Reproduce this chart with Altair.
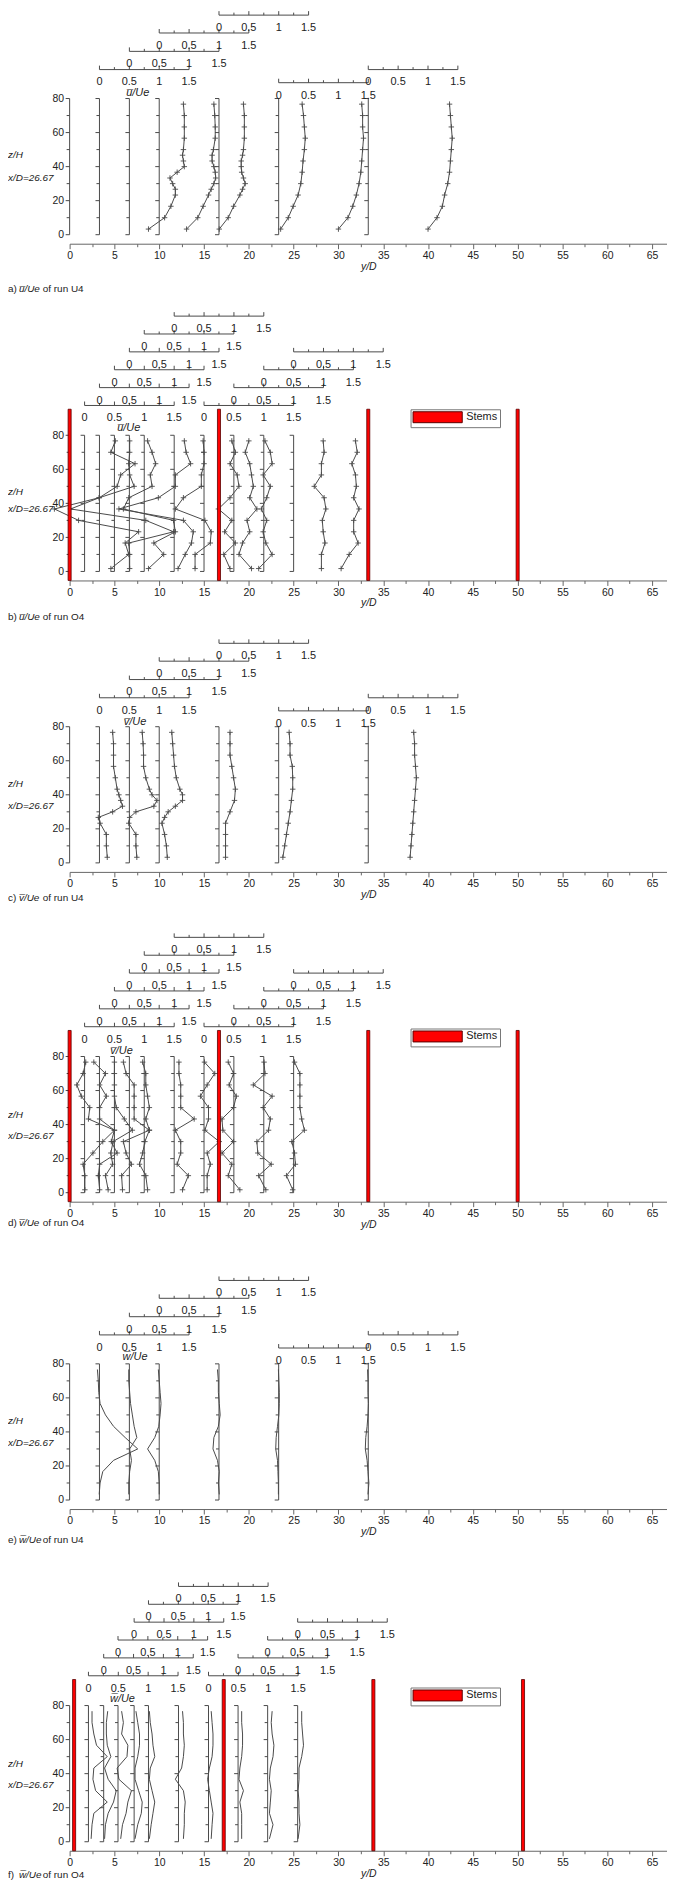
import altair as alt
import pandas as pd

FONT = "Liberation Sans"
INK = "#4a4a4a"
TXT = "#222222"
K = 1.7125            # px per z/H unit
XMAX = 66.67
W = 601

# ---------------- z/H levels ----------------
Z_U4 = [3.3, 10, 16.7, 23.3, 30, 36.7, 43.3, 50, 56.7, 63.3, 70, 76.7]
Z_U4_DENSE = [3.3, 10, 16.7, 23.3, 26.7, 30, 33.3, 36.7, 40, 43.3, 46.7, 50, 56.7, 63.3, 70, 76.7]
Z_V4_DENSE = [3.3, 10, 16.7, 23.3, 26.7, 30, 33.3, 36.7, 40, 43.3, 50, 56.7, 63.3, 70, 76.7]
Z_O4 = [1.7, 10, 16.7, 23.3, 30, 36.7, 43.3, 50, 56.7, 63.3, 70, 76.7]

# ---------------- a) u/Ue run U4 (profile positions in y/D) ----------------
A1 = [8.8, 10.6, 11.3, 11.8, 11.8, 11.5, 11.2, 12.0, 12.8, 12.7, 12.6, 12.7, 12.8, 12.8, 12.8, 12.7]
A2 = [13.05, 14.3, 14.9, 15.5, 15.8, 16.1, 16.3, 16.25, 16.1, 15.9, 15.9, 16.05, 16.25, 16.25, 16.2, 16.1]
A3 = [16.7, 17.7, 18.3, 19.0, 19.3, 19.6, 19.4, 19.2, 19.15, 19.15, 19.3, 19.4, 19.5, 19.5, 19.5, 19.4]
A4 = [23.55, 24.4, 24.95, 25.5, 25.8, 25.95, 26.05, 26.2, 26.3, 26.2, 26.1, 25.95]
A5 = [30.0, 31.06, 31.6, 32.0, 32.3, 32.5, 32.6, 32.7, 32.8, 32.7, 32.7, 32.6]
A6 = [40.0, 41.0, 41.6, 41.85, 42.2, 42.4, 42.5, 42.6, 42.7, 42.6, 42.5, 42.4]

# ---------------- b) u/Ue run O4 ----------------
B1 = [4.6, 6.6, 6.2, 7.7, 1.0, -1.7, 3.3, 5.3, 5.7, 7.3, 4.6, 5.1]
B2 = [6.7, 6.7, 6.6, 11.6, 8.5, 0.1, 3.3, 7.2, 6.7, 6.6, 6.7, 6.7]
B3 = [8.8, 10.5, 9.4, 11.8, 11.6, 6.0, 6.6, 9.2, 9.0, 9.6, 9.2, 8.7]
B4 = [12.1, 12.9, 13.6, 13.8, 12.7, 5.5, 9.9, 11.8, 11.8, 13.5, 13.0, 12.8]
B5 = [14.0, 14.0, 15.7, 15.8, 15.1, 11.8, 12.7, 14.7, 14.7, 15.0, 15.0, 14.9]
B6 = [17.9, 17.2, 18.5, 17.3, 18.1, 16.6, 17.9, 18.9, 18.7, 17.9, 18.5, 18.1]
B7 = [20.3, 18.9, 19.3, 20.1, 19.8, 20.9, 20.1, 20.5, 20.3, 20.1, 19.6, 20.0]
B8 = [21.1, 22.6, 21.9, 21.6, 22.0, 21.4, 22.0, 22.4, 21.6, 22.6, 22.4, 21.8]
B9 = [28.1, 28.1, 28.5, 28.3, 28.2, 28.6, 28.4, 27.3, 28.1, 28.1, 28.4, 28.3]
B10 = [30.3, 31.2, 32.2, 31.7, 31.7, 32.3, 31.7, 32.0, 31.9, 31.5, 32.1, 31.9]

# ---------------- c) v/Ue run U4 ----------------
C1 = [4.2, 4.1, 4.1, 3.4, 3.2, 4.8, 5.9, 5.7, 5.5, 5.3, 5.1, 4.9, 4.9, 4.9, 4.8]
C2 = [7.5, 7.4, 7.4, 6.6, 6.7, 7.4, 9.4, 9.75, 9.2, 8.9, 8.5, 8.25, 8.25, 8.2, 8.1]
C3 = [10.9, 10.8, 10.6, 10.3, 10.6, 11.0, 11.8, 12.6, 12.6, 12.3, 11.9, 11.7, 11.6, 11.5, 11.4]
C4 = [17.4, 17.4, 17.4, 17.4, 17.9, 18.4, 18.5, 18.3, 18.1, 17.9, 17.9, 17.9]
C5 = [23.8, 24.0, 24.2, 24.4, 24.6, 24.75, 24.9, 24.9, 24.85, 24.6, 24.6, 24.5]
C6 = [38.0, 38.1, 38.2, 38.3, 38.4, 38.5, 38.6, 38.7, 38.6, 38.5, 38.5, 38.4]

# ---------------- d) v/Ue run O4 ----------------
D1 = [1.7, 1.7, 1.5, 2.6, 3.7, 5.0, 2.1, 2.25, 1.3, 0.8, 1.5, 1.8]
D2 = [3.35, 3.2, 3.35, 5.3, 4.65, 5.0, 3.35, 3.35, 4.1, 3.35, 4.0, 2.7]
D3 = [4.3, 4.0, 4.8, 4.6, 4.85, 7.0, 6.1, 5.2, 5.0, 5.0, 5.0, 5.0]
D4 = [5.9, 5.8, 6.9, 6.3, 6.0, 8.9, 7.2, 7.2, 7.2, 7.2, 6.3, 6.0]
D5 = [8.7, 8.5, 7.8, 8.15, 8.4, 8.9, 8.5, 8.9, 8.7, 8.5, 8.5, 8.15]
D6 = [12.6, 13.25, 12.0, 12.4, 12.4, 11.8, 13.9, 12.4, 12.4, 12.4, 12.2, 12.2]
D7 = [15.35, 15.35, 15.7, 15.35, 16.7, 15.1, 15.5, 15.5, 14.6, 15.35, 16.2, 15.05]
D8 = [19.0, 17.7, 18.1, 17.0, 18.3, 17.1, 17.0, 18.3, 18.6, 17.8, 18.3, 17.7]
D9 = [21.9, 21.1, 22.5, 21.0, 20.9, 22.2, 22.4, 21.6, 22.6, 20.5, 21.8, 21.7]
D10 = [24.9, 24.2, 25.2, 25.1, 24.8, 26.2, 25.9, 25.7, 25.7, 25.7, 25.7, 25.1]

# ---------------- e) w/Ue run U4 ----------------
E1 = [3.3, 3.4, 3.7, 4.9, 7.6, 6.2, 4.9, 4.0, 3.4, 3.25, 3.2, 3.1]
E2 = [6.6, 6.6, 6.7, 6.9, 6.7, 7.5, 7.2, 7.0, 6.8, 6.7, 6.6, 6.6]
E3 = [10.0, 10.0, 9.9, 9.5, 8.7, 9.5, 9.95, 10.1, 10.2, 10.1, 10.0, 9.9]
E4 = [16.7, 16.6, 16.7, 16.5, 16.0, 16.1, 16.6, 16.8, 16.7, 16.6, 16.6, 16.5]
E5 = [23.3, 23.3, 23.25, 23.2, 23.0, 23.05, 23.2, 23.35, 23.4, 23.4, 23.35, 23.3]
E6 = [33.3, 33.4, 33.3, 33.2, 33.0, 33.05, 33.2, 33.3, 33.35, 33.3, 33.3, 33.25]

# ---------------- f) w/Ue run O4 ----------------
F1 = [2.4, 2.5, 2.7, 4.2, 2.9, 2.6, 2.7, 4.2, 3.0, 2.7, 2.5, 2.5]
F2 = [3.9, 4.0, 4.3, 4.9, 5.2, 4.3, 3.9, 4.6, 4.2, 4.1, 4.1, 4.25]
F3 = [5.7, 5.9, 6.3, 6.5, 6.9, 5.5, 5.3, 6.4, 6.5, 5.8, 6.0, 5.8]
F4 = [7.3, 7.6, 8.0, 8.1, 7.7, 7.3, 7.3, 7.6, 7.8, 7.8, 7.6, 7.4]
F5 = [8.9, 9.1, 9.3, 9.5, 9.2, 8.9, 9.0, 9.5, 9.3, 9.2, 9.0, 8.9]
F6 = [12.7, 12.8, 12.8, 12.9, 12.7, 11.8, 12.5, 12.7, 12.8, 12.7, 12.7, 12.6]
F7 = [15.8, 15.9, 16.0, 15.8, 15.6, 15.4, 15.6, 15.9, 16.0, 16.0, 15.9, 15.8]
F8 = [19.2, 19.2, 19.2, 19.0, 19.4, 18.9, 19.0, 19.2, 19.3, 19.3, 19.2, 19.2]
F9 = [22.3, 22.7, 22.3, 22.4, 22.5, 22.3, 22.4, 22.7, 22.8, 22.6, 22.5, 22.6]
F10 = [25.5, 25.7, 25.6, 25.6, 25.5, 25.6, 25.6, 25.9, 26.1, 26.0, 25.9, 25.9]

# ---------------- profile baselines (brackets) and secondary scales ----------------
BR_U4 = [0, 3.33, 6.67, 10, 16.67, 23.33, 33.33]
BR_O4 = [0, 1.67, 3.33, 5, 6.67, 8.33, 11.67, 15, 18.33, 21.67, 25]
BR_O4F = [0, 2.1, 3.8, 5.4, 7.2, 8.8, 12.15, 15.5, 18.8, 22.1, 25.45]

MINI_U4_ZERO = [3.33, 6.67, 10, 16.67, 23.33, 33.33]
MINI_U4_LEVEL = [97.0, 107.7, 118.5, 129.0, 89.3, 97.0]
MINI_O4_ZERO = [1.67, 3.33, 5, 6.67, 8.33, 11.67, 15, 18.33, 21.67, 25]
MINI_O4F_ZERO = [2.1, 3.8, 5.4, 7.2, 8.8, 12.15, 15.5, 18.8, 22.1, 25.45]
MINI_O4_LEVEL = [97.5, 108, 118.5, 129, 139.5, 150, 97.5, 108, 118.5, 129]
MINI_TICKS = ["0", "0.5", "1", "1.5"]
MINI_SPAN = 10.0      # y/D length of 1.5 Ue

STEMS_O4 = [0, 16.67, 33.33, 50]
STEMS_O4F = [0.5, 17.2, 33.9, 50.6]
STEM_TOP = 95.3

X_TICKS = [i * 2.5 for i in range(27)]
Y_TICKS = [0, 20, 40, 60, 80]


def panel(curves, brackets, mini_zero, mini_level, z_top, markers, stems,
          legend_y, var_label, var_pos, caption, cap_y, zh_z, xd_z, spacer):
    h = (z_top + 5.3) * K
    xs = alt.Scale(domain=[0, XMAX], nice=False, zero=False)
    ys = alt.Scale(domain=[-5.3, z_top], nice=False, zero=False)
    xaxis = alt.Axis(values=X_TICKS, labelExpr="datum.value % 5 === 0 ? datum.label : ''",
                     tickSize={"condition": {"test": "datum.value % 5 === 0", "value": 5}, "value": 3},
                     labelOverlap=False, labelFlush=False, labelPadding=2, labelFontSize=10.5,
                     labelColor=TXT, domainColor="#666", tickColor="#666", grid=False,
                     title="y/D", titleFontStyle="italic", titleFontWeight="normal",
                     titleFontSize=10.5, titleColor=TXT, titlePadding=0)
    yaxis = alt.Axis(values=Y_TICKS, ticks=False, tickSize=0, domain=False, labelPadding=6,
                     labelFontSize=10.5, labelColor=TXT, title=None, grid=False)
    X = alt.X("x:Q", scale=xs, axis=xaxis)
    Y = alt.Y("z:Q", scale=ys, axis=yaxis)

    # brackets (profile baselines)
    br = pd.DataFrame({"x": brackets, "z": [0] * len(brackets), "z2": [80] * len(brackets)})
    bt = pd.DataFrame([{"x": b - (0.444 if t % 20 == 0 else 0.333), "x2": b, "z": t}
                       for b in brackets for t in range(0, 81, 10)])
    # secondary (per-profile) scales
    ml = pd.DataFrame({"x": mini_zero, "x2": [v + MINI_SPAN for v in mini_zero], "z": mini_level})
    mt = pd.DataFrame([{"x": z0 + i * MINI_SPAN / 6, "z": lv, "z2": lv + (4 if i % 2 == 0 else 2.5) / K}
                       for z0, lv in zip(mini_zero, mini_level) for i in range(7)])
    mlab = pd.DataFrame([{"x": z0 + j * MINI_SPAN / 3, "z": lv, "t": lab}
                         for z0, lv in zip(mini_zero, mini_level) for j, lab in enumerate(MINI_TICKS)])
    cv = pd.DataFrame([{"c": name, "i": i, "z": zz, "x": xx}
                       for name, (lev, vals) in curves.items() for i, (zz, xx) in enumerate(zip(lev, vals))])

    layers = [
        alt.Chart(br).mark_rule(color=INK, strokeWidth=1).encode(x=X, y=Y, y2="z2:Q"),
        alt.Chart(bt).mark_rule(color=INK, strokeWidth=1).encode(x=X, x2="x2:Q", y=Y),
        alt.Chart(ml).mark_rule(color=INK, strokeWidth=1).encode(x=X, x2="x2:Q", y=Y),
        alt.Chart(mt).mark_rule(color=INK, strokeWidth=1).encode(x=X, y=Y, y2="z2:Q"),
        alt.Chart(mlab).mark_text(baseline="top", dy=7, fontSize=11, color=TXT).encode(x=X, y=Y, text="t:N"),
        alt.Chart(cv).mark_line(color=INK, strokeWidth=1).encode(x=X, y=Y, detail="c:N", order="i:Q"),
    ]
    if markers:
        layers.append(alt.Chart(cv).mark_point(shape="M-1,0H1M0,-1V1", filled=False, size=30,
                                               strokeWidth=0.9, color=INK, opacity=1).encode(x=X, y=Y))
    lab = pd.DataFrame({"x": [var_pos[0]], "z": [var_pos[1]], "t": [var_label]})
    layers.append(alt.Chart(lab).mark_text(fontSize=11, fontStyle="italic", color=TXT)
                  .encode(x=X, y=Y, text="t:N"))
    side = pd.DataFrame({"z": [zh_z, xd_z], "t": ["z/H", "x/D=26.67"]})
    layers.append(alt.Chart(side).mark_text(fontSize=10, fontStyle="italic", align="left", color=TXT)
                  .encode(x=alt.value(-62), y=Y, text="t:N"))
    if stems:
        st = pd.DataFrame({"x": [s - 0.17 for s in stems], "x2": [s + 0.17 for s in stems],
                           "z": [-5.3] * len(stems), "z2": [STEM_TOP] * len(stems),
                           "lab": ["Stems"] * len(stems)})
        leg = alt.Legend(title=None, orient="none", legendX=343, legendY=legend_y,
                         symbolType="M-1,-1H8V1H-1Z", symbolSize=121,
                         symbolStrokeColor="#5a0000", symbolStrokeWidth=1,
                         labelFont=FONT, labelFontSize=11, labelColor=TXT, labelOffset=42,
                         padding=2, strokeColor="#777777", fillColor="white")
        layers.append(alt.Chart(st).mark_rect(stroke="#5a0000", strokeWidth=0.8).encode(
            x=X, x2="x2:Q", y=Y, y2="z2:Q",
            color=alt.Color("lab:N", scale=alt.Scale(domain=["Stems"], range=["#ff0000"]), legend=leg)))
    # caption: letter, italic quantity, run
    cap = pd.DataFrame({"t": caption, "px": [-62, -51, -27], "it": ["normal", "italic", "normal"]})
    for k in range(3):
        one = cap.iloc[[k]]
        layers.append(alt.Chart(one).mark_text(fontSize=10, align="left", baseline="middle",
                                               color=TXT, fontStyle=one["it"].iloc[0])
                      .encode(x=alt.value(float(one["px"].iloc[0])), y=alt.value(h + cap_y), text="t:N"))
    sp = pd.DataFrame({"a": [0]})
    layers.append(alt.Chart(sp).mark_rule(opacity=0, color="white").encode(
        x=alt.value(0), y=alt.value(h), y2=alt.value(h + spacer)))
    return alt.layer(*layers).properties(width=W, height=h)


pa = panel({"a1": (Z_U4_DENSE, A1), "a2": (Z_U4_DENSE, A2), "a3": (Z_U4_DENSE, A3),
            "a4": (Z_U4, A4), "a5": (Z_U4, A5), "a6": (Z_U4, A6)},
           BR_U4, MINI_U4_ZERO, MINI_U4_LEVEL, 131.6, True, None, 0,
           "u\u0305/Ue", (7.6, 83.0), ["a)", "u\u0305/Ue", "of run U4"], 46, 46.7, 33.3, 67.4)
pb = panel({"b%d" % (i + 1): (Z_O4, v) for i, v in enumerate([B1, B2, B3, B4, B5, B6, B7, B8, B9, B10])},
           BR_O4, MINI_O4_ZERO, MINI_O4_LEVEL, 152.5, True, STEMS_O4, 98,
           "u\u0305/Ue", (6.6, 84.0), ["b)", "u\u0305/Ue", "of run O4"], 37, 46.6, 36.9, 57.1)
pc = panel({"c1": (Z_V4_DENSE, C1), "c2": (Z_V4_DENSE, C2), "c3": (Z_V4_DENSE, C3),
            "c4": (Z_U4, C4), "c5": (Z_U4, C5), "c6": (Z_U4, C6)},
           BR_U4, MINI_U4_ZERO, MINI_U4_LEVEL, 131.6, True, None, 0,
           "v\u0305/Ue", (7.3, 83), ["c)", "v\u0305/Ue", "of run U4"], 26, 46.3, 33.7, 60.3)
pd_ = panel({"d%d" % (i + 1): (Z_O4, v) for i, v in enumerate([D1, D2, D3, D4, D5, D6, D7, D8, D9, D10])},
            BR_O4, MINI_O4_ZERO, MINI_O4_LEVEL, 152.5, True, STEMS_O4, 96,
            "v\u0305/Ue", (5.8, 83.3), ["d)", "v\u0305/Ue", "of run O4"], 21, 45.7, 33.0, 73.6)
pe = panel({"e%d" % (i + 1): (Z_U4, v) for i, v in enumerate([E1, E2, E3, E4, E5, E6])},
           BR_U4, MINI_U4_ZERO, MINI_U4_LEVEL, 131.6, False, None, 0,
           "w\u0305/Ue", (7.3, 83.9), ["e)", "w\u0305/Ue", "of run U4"], 31, 46.5, 33.6, 71.8)
pf = panel({"f%d" % (i + 1): (Z_O4, v) for i, v in enumerate([F1, F2, F3, F4, F5, F6, F7, F8, F9, F10])},
           BR_O4F, MINI_O4F_ZERO, MINI_O4_LEVEL, 152.5, False, STEMS_O4F, 106,
           "w\u0305/Ue", (5.9, 84.0), ["f)", "w\u0305/Ue", "of run O4"], 24, 45.7, 33.4, 32)

chart = (alt.vconcat(pa, pb, pc, pd_, pe, pf, spacing=0)
         .resolve_scale(x="independent", y="independent", color="independent")
         .resolve_legend(color="independent")
         .properties(padding={"top": -4, "left": 0, "right": 0, "bottom": 0})
         .configure_view(stroke=None)
         .configure_axis(labelFont=FONT, titleFont=FONT)
         .configure_text(font=FONT)
         .configure_legend(labelFont=FONT))

chart.save("out.html", embed_options={"renderer": "svg", "actions": False})
